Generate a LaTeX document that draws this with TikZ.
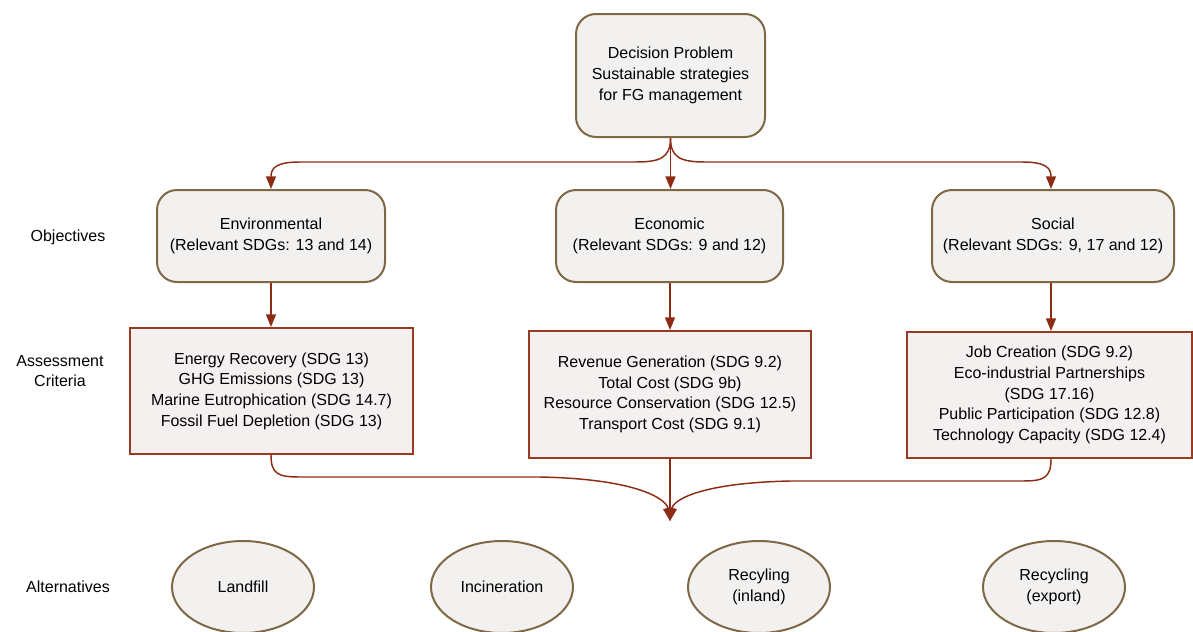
\documentclass[tikz,border=0pt]{standalone}
\usepackage{fontspec}
\setmainfont{Liberation Sans}
\usetikzlibrary{shapes.geometric,arrows.meta}
\definecolor{brownb}{HTML}{7F6846}
\definecolor{redb}{HTML}{963A22}
\definecolor{arrc}{HTML}{8C2C14}
\definecolor{fillg}{HTML}{F2F1EF}
\definecolor{fillr}{HTML}{F4F0EF}
\tikzset{
  x=0.75pt, y=-0.75pt,
  every node/.style={font=\fontsize{12}{15.5}\selectfont, align=center, inner sep=0pt},
  rbox/.style={draw=brownb, line width=1.5pt, fill=fillg, rounded corners=15pt},
  cbox/.style={draw=redb, line width=1.5pt, fill=fillr},
  alt/.style={ellipse, draw=brownb, line width=1.5pt, fill=fillg, minimum width=106.5pt, minimum height=69pt},
  arr/.style={draw=arrc, line width=1.1pt, -{Triangle[length=9.5pt,width=7.5pt]}},
  lbl/.style={}
}
\begin{document}
\begin{tikzpicture}
\useasboundingbox (0,0) rectangle (1193,632);
% decision problem
\node[rbox, minimum width=141.75pt, minimum height=92.25pt] (dp) at (670.5,75.5)
  {Decision Problem\\Sustainable strategies\\for FG management};
% objectives
\node[rbox, minimum width=171pt, minimum height=69pt] (eo) at (271,236)
  {Environmental\\(Relevant SDGs: 13 and 14)};
\node[rbox, minimum width=170.25pt, minimum height=69pt] (co) at (669.5,236)
  {Economic\\(Relevant SDGs: 9 and 12)};
\node[rbox, minimum width=181.5pt, minimum height=69pt] (so) at (1053,236)
  {Social\\(Relevant SDGs: 9, 17 and 12)};
% criteria
\node[cbox, minimum width=212.25pt, minimum height=94.5pt] (ec) at (271.5,391)
  {Energy Recovery (SDG 13)\\GHG Emissions (SDG 13)\\Marine Eutrophication (SDG 14.7)\\Fossil Fuel Depletion (SDG 13)};
\node[cbox, minimum width=211.5pt, minimum height=95.25pt] (cc) at (670,394.5)
  {Revenue Generation (SDG 9.2)\\Total Cost (SDG 9b)\\Resource Conservation (SDG 12.5)\\Transport Cost (SDG 9.1)};
\node[cbox, minimum width=213.75pt, minimum height=94.5pt] (sc) at (1049.5,395)
  {Job Creation (SDG 9.2)\\Eco-industrial Partnerships\\(SDG 17.16)\\Public Participation (SDG 12.8)\\Technology Capacity (SDG 12.4)};
% alternatives
\node[alt] (a1) at (243,587) {Landfill};
\node[alt] (a2) at (502,587) {Incineration};
\node[alt] (a3) at (759,587) {Recyling\\(inland)};
\node[alt] (a4) at (1054,587) {Recycling\\(export)};
% left labels
\node[lbl] (l1) at (68,237) {Objectives};
\node[lbl] (l2) at (60,371) {Assessment\\Criteria};
\node[lbl] (l3) at (68,587) {Alternatives};
% merge point
\coordinate (m) at (670,521);
% top arrows
\draw[arr] (dp.south) .. controls (670.5,158) and (660,162) .. (635,162) -- (300,162) .. controls (276,162) and (271,168) .. (eo.north);
\draw[arr] (dp.south) -- (co.north -| dp.south);
\draw[arr] (dp.south) .. controls (670.5,158) and (681,162) .. (706,162) -- (1022,162) .. controls (1046,162) and (1051,168) .. (so.north -| 1051,0);
% objective to criteria
\draw[arr] (eo.south) -- (ec.north -| eo.south);
\draw[arr] (co.south -| 670,0) -- (cc.north);
\draw[arr] (so.south -| 1051,0) -- (sc.north -| 1051,0);
% criteria to alternatives
\draw[arr] (ec.south -| 271,0) .. controls (271,474) and (278,477) .. (300,477) -- (540,477) .. controls (640,479) and (667,500) .. (m);
\draw[arr] (cc.south) -- (m);
\draw[arr] (sc.south -| 1051,0) .. controls (1051,478) and (1044,481) .. (1022,481) -- (790,481) .. controls (700,483) and (673,500) .. (m);
\end{tikzpicture}
\end{document}
